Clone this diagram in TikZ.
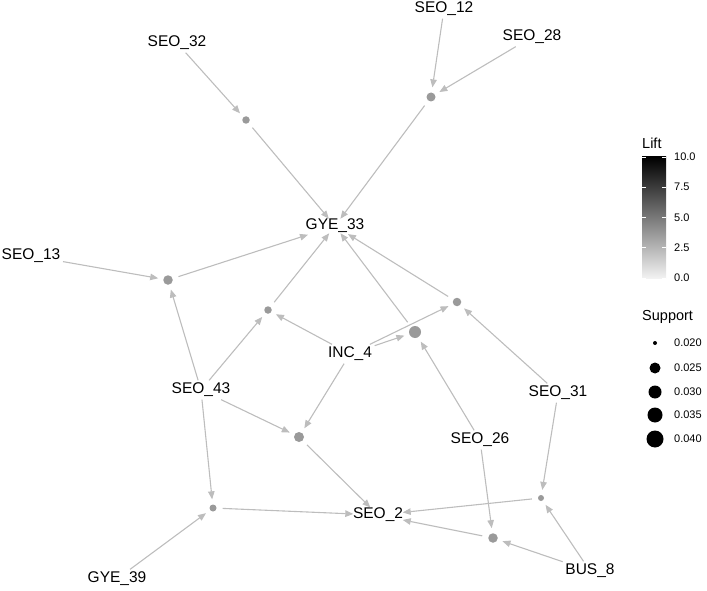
\documentclass[tikz,border=0pt]{standalone}
\usepackage{fontspec}
\setmainfont{Liberation Sans}
\usetikzlibrary{arrows.meta}

\definecolor{ruledot}{HTML}{9A9A9A}
\definecolor{linkgray}{HTML}{BDBDBD}

\begin{document}
\begin{tikzpicture}[x=1pt,y=-1pt,
  item/.style={inner sep=2.5pt,font=\fontsize{15.5}{15.5}\selectfont},
  rule/.style={circle,fill=ruledot,inner sep=0pt,minimum size=#1},
  link/.style={draw=linkgray,line width=1.1pt,-{Triangle[length=8pt,width=6.5pt,fill=linkgray]}},
  toRule/.style={link,shorten >=5pt},
  fromRule/.style={link,shorten <=6pt,shorten >=-3pt},
  legtitle/.style={anchor=west,inner sep=0pt,font=\fontsize{14.5}{14.5}\selectfont},
  leglabel/.style={anchor=west,inner sep=0pt,font=\fontsize{11}{11}\selectfont}]
\useasboundingbox (0,0) rectangle (707,591);

% items
\node[item] (SEO_12) at (444,9) {SEO\_12};
\node[item] (SEO_28) at (532,37) {SEO\_28};
\node[item] (SEO_32) at (177,43) {SEO\_32};
\node[item] (GYE_33) at (335,226) {GYE\_33};
\node[item] (SEO_13) at (31,256) {SEO\_13};
\node[item] (INC_4) at (350,354) {INC\_4};
\node[item] (SEO_43) at (201,390) {SEO\_43};
\node[item] (SEO_31) at (558,393) {SEO\_31};
\node[item] (SEO_26) at (480,440) {SEO\_26};
\node[item] (SEO_2) at (378,515) {SEO\_2};
\node[item] (BUS_8) at (590,571) {BUS\_8};
\node[item] (GYE_39) at (117,579) {GYE\_39};

% rules
\node[rule=7.5pt] (r1) at (246,120) {};
\node[rule=9pt] (r2) at (431,97) {};
\node[rule=9.5pt] (r3) at (168,280) {};
\node[rule=7.5pt] (r4) at (268,310) {};
\node[rule=8.5pt] (r5) at (457,302) {};
\node[rule=12pt] (r6) at (415,332) {};
\node[rule=10pt] (r7) at (299,437) {};
\node[rule=7pt] (r8) at (213,508) {};
\node[rule=6pt] (r9) at (541,498) {};
\node[rule=9.5pt] (r10) at (493,538) {};

% links
\draw[toRule] (SEO_32) -- (r1);
\draw[fromRule] (r1) -- (GYE_33);
\draw[toRule] (SEO_12) -- (r2);
\draw[toRule] (SEO_28) -- (r2);
\draw[fromRule] (r2) -- (GYE_33);
\draw[toRule] (SEO_13) -- (r3);
\draw[toRule] (SEO_43) -- (r3);
\draw[fromRule] (r3) -- (GYE_33);
\draw[toRule] (SEO_43) -- (r4);
\draw[toRule] (INC_4) -- (r4);
\draw[fromRule] (r4) -- (GYE_33);
\draw[toRule] (INC_4) -- (r5);
\draw[toRule] (SEO_31) -- (r5);
\draw[fromRule] (r5) -- (GYE_33);
\draw[toRule] (INC_4) -- (r6);
\draw[toRule] (SEO_26) -- (r6);
\draw[fromRule] (r6) -- (GYE_33);
\draw[toRule] (SEO_43) -- (r7);
\draw[toRule] (INC_4) -- (r7);
\draw[fromRule] (r7) -- (SEO_2);
\draw[toRule] (SEO_43) -- (r8);
\draw[toRule] (GYE_39) -- (r8);
\draw[fromRule] (r8) -- (SEO_2);
\draw[toRule] (SEO_31) -- (r9);
\draw[toRule] (BUS_8) -- (r9);
\draw[fromRule] (r9) -- (SEO_2);
\draw[toRule] (SEO_26) -- (r10);
\draw[toRule] (BUS_8) -- (r10);
\draw[fromRule] (r10) -- (SEO_2);

% legend: lift
\node[legtitle] (lifttitle) at (642,143) {Lift};
\shade[bottom color=white!95!black,top color=black] (642,157) rectangle (666,278);
\foreach \v/\t in {0/0.0,2.5/2.5,5/5.0,7.5/7.5,10/10.0}{
  \pgfmathsetmacro\yy{278-12.1*\v}
  \draw[white,line width=0.6pt] (642,\yy) -- (646,\yy) (662,\yy) -- (666,\yy);
  \node[leglabel] (lift\v) at (674,\yy) {\t};
}

% legend: support
\node[legtitle] (supptitle) at (642,317) {Support};
\foreach \s/\yy/\t in {4/343/0.020,11/368/0.025,13/392/0.030,15/415/0.035,17/439/0.040}{
  \node[circle,fill=black,inner sep=0pt,minimum size=\s pt] (supp\s) at (655,\yy) {};
  \node[leglabel] (supplab\s) at (674,\yy) {\t};
}
\end{tikzpicture}
\end{document}
